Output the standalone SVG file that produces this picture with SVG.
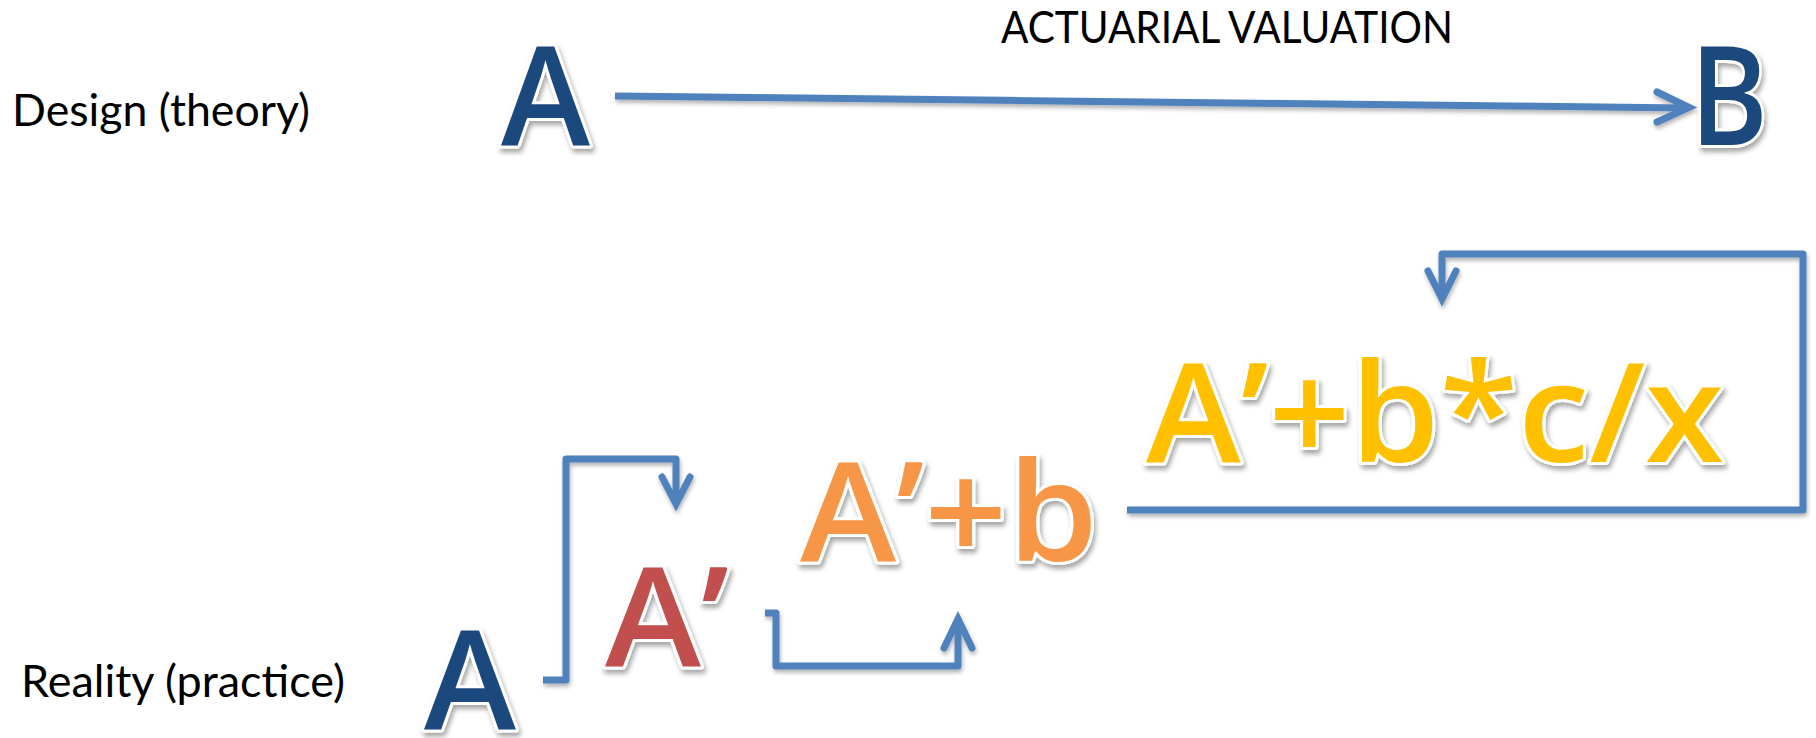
<svg xmlns="http://www.w3.org/2000/svg" width="1816" height="738" viewBox="0 0 1816 738">
<defs>
<filter id="sh" x="-20%" y="-20%" width="140%" height="140%">
<feDropShadow dx="2" dy="4" stdDeviation="2.5" flood-color="#000" flood-opacity="0.35"/>
</filter>
<filter id="lsh" x="-5%" y="-20%" width="110%" height="140%">
<feDropShadow dx="1" dy="3" stdDeviation="2" flood-color="#000" flood-opacity="0.3"/>
</filter>
</defs>
<style>
.lbl{font-family:Lato,"Open Sans","Liberation Sans",sans-serif;font-size:44px;fill:#000}
.big{font-family:"Open Sans","Liberation Sans",sans-serif;font-weight:600;font-size:138px;stroke:#fff;stroke-width:6;stroke-linejoin:round;paint-order:stroke;filter:url(#sh)}
.blue{fill:#1F497D}
.red{fill:#C0504D}
.orange{fill:#F79646}
.yellow{fill:#FFC000}
.con{fill:none;stroke:#4F81BD;stroke-width:7;stroke-linejoin:round;stroke-linecap:butt}
.head{fill:none;stroke:#4F81BD;stroke-width:7;stroke-linejoin:miter;stroke-linecap:round}
</style>
<g id="label-design"><text class="lbl" x="12" y="126" textLength="298" lengthAdjust="spacingAndGlyphs">Design (theory)</text></g>
<g id="label-reality"><text class="lbl" x="21" y="697" textLength="324" lengthAdjust="spacingAndGlyphs">Reality (practice)</text></g>
<g id="label-valuation"><text class="lbl" x="1001" y="43" textLength="452" lengthAdjust="spacingAndGlyphs">ACTUARIAL VALUATION</text></g>

<g id="connectors" filter="url(#lsh)">
<path class="con" d="M615,96 L1686,108"/>
<polyline class="head" points="1657,92 1689,107.5 1657,122"/>
<path class="con" d="M543,680 H566 V459 H676 V501"/>
<polyline class="head" points="662,477 676,504 690,477"/>
<path class="con" d="M765,613 H776 V666 H958 V622"/>
<polyline class="head" points="944,648 958,619 972,648"/>
<path class="con" d="M1127,510 H1803 V254 H1442 V296"/>
<polyline class="head" points="1428,271 1442,299 1456,271"/>
</g>

<g id="node-A-design"><text class="big blue" x="501" y="145" textLength="89" lengthAdjust="spacingAndGlyphs">A</text></g>
<g id="node-B"><text class="big blue" x="1690" y="145" textLength="78" lengthAdjust="spacingAndGlyphs">B</text></g>
<g id="node-A-reality"><text class="big blue" x="424" y="729" textLength="92" lengthAdjust="spacingAndGlyphs">A</text></g>
<g id="node-A-prime"><text class="big red" x="605" y="666" textLength="124" lengthAdjust="spacingAndGlyphs">A’</text></g>
<g id="node-A-prime-b"><text class="big orange" x="800" y="561" textLength="298" lengthAdjust="spacingAndGlyphs">A’+b</text></g>
<g id="node-A-prime-bcx"><text class="big yellow" x="1146" y="462" textLength="578" lengthAdjust="spacingAndGlyphs">A’+b*c/x</text></g>
</svg>
